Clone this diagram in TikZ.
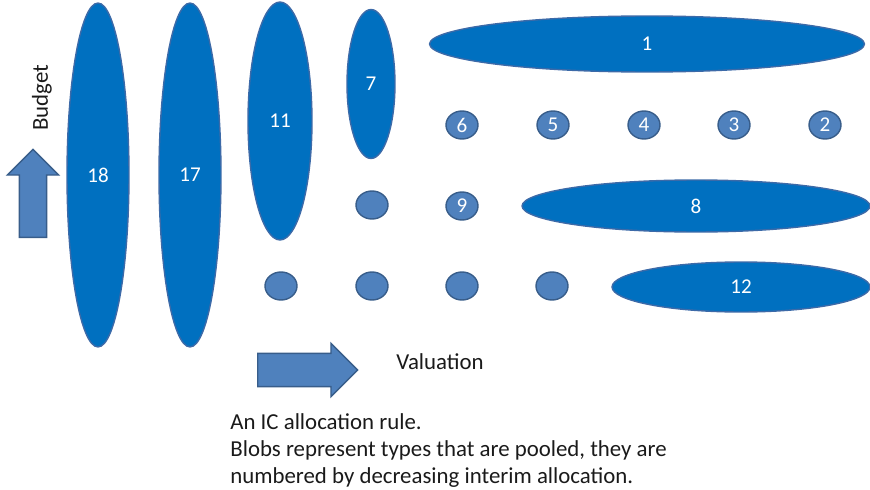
\documentclass[tikz,border=0pt]{standalone}
\usepackage{fontspec}
\setmainfont{Carlito}
\usetikzlibrary{shapes.geometric,shapes.arrows}
\definecolor{blobblue}{HTML}{0070C0}
\definecolor{blobedge}{HTML}{3C6AA8}
\definecolor{dotblue}{HTML}{4F81BD}
\definecolor{dotedge}{HTML}{385D8A}
\definecolor{ink}{HTML}{1A1A1A}
\tikzset{
  blob/.style={ellipse, draw=blobedge, fill=blobblue, line width=0.8pt, inner sep=0pt,
               text=white, font=\fontsize{12}{14}\selectfont},
  dot/.style={ellipse, draw=dotedge, fill=dotblue, line width=0.8pt, inner sep=0pt,
              minimum width=0.64cm, minimum height=0.56cm, text=white, font=\fontsize{12}{14}\selectfont},
  bigarrow/.style={single arrow, draw=dotedge, fill=dotblue, line width=0.8pt, inner xsep=0pt},
  lbl/.style={font=\fontsize{13}{15.5}\selectfont, text=ink, inner sep=0pt},
}

\begin{document}
\begin{tikzpicture}[x=0.02cm,y=-0.02cm]
\useasboundingbox (0,0) rectangle (870,490);
% tall blobs on the left
\node[blob, minimum width=1.24cm, minimum height=6.88cm] (b18) at (98,175) {18};
\node[blob, minimum width=1.24cm, minimum height=6.88cm] (b17) at (190,175) {17};
\node[blob, minimum width=1.28cm, minimum height=4.76cm] (b11) at (280,121) {11};
\node[blob, minimum width=0.96cm, minimum height=2.98cm] (b7) at (371,84) {7};
% wide blobs on the right
\node[blob, minimum width=8.70cm, minimum height=1.12cm] (b1) at (647,44) {1};
\node[blob, minimum width=6.96cm, minimum height=1.04cm] (b8) at (696,206) {8};
\node[blob, minimum width=5.16cm, minimum height=1.00cm] (b12) at (741,287) {12};
% single types
\foreach \n/\x in {6/462,5/553,4/644,3/734,2/825}
  \node[dot] (d\n) at (\x,125) {\n};
\node[dot] (u1) at (372,205) {};
\node[dot] (d9) at (462,206) {9};
\foreach \x [count=\i from 2] in {281,372,462,552}
  \node[dot] (u\i) at (\x,286) {};
% axes
\node[bigarrow, rotate=90, anchor=tail, inner ysep=0.26cm, minimum width=1.0cm,
      minimum height=1.76cm, single arrow head extend=0.24cm] (up) at (33,238) {};
\node[bigarrow, anchor=tail, inner ysep=0.32cm, minimum width=1.04cm,
      minimum height=2.0cm, single arrow head extend=0.2cm] (right) at (257,370) {};
\node[lbl, rotate=90] (budget) at (42,98) {Budget};
\node[lbl, anchor=west] (valuation) at (396,362) {Valuation};
% caption
\node[lbl, anchor=north west, align=left] (caption) at (230,413)
 {An IC allocation rule.\\
  Blobs represent types that are pooled, they are\\
  numbered by decreasing interim allocation.};
\end{tikzpicture}
\end{document}
